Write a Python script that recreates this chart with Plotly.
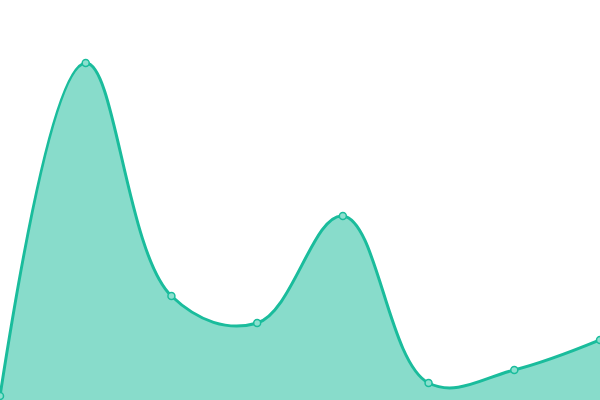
import plotly.graph_objects as go

# data
x_vals = [0, 1, 2, 3, 4, 5, 6, 7]
y_vals = [1, 84.25, 26, 19.25, 46, 4.25, 7.5, 15]

line_col = "#1abc9c"
fill_col = "rgba(26,188,156,0.52)"

trace = go.Scatter(
    x=x_vals,
    y=y_vals,
    mode="lines+markers",
    fill="tozeroy",
    fillcolor=fill_col,
    line=dict(color=line_col, width=3, shape="spline", smoothing=1.1),
    marker=dict(size=7, color="#8ce0cf", line=dict(color=line_col, width=1.5)),
    cliponaxis=False,
    hoverinfo="x+y",
)

layout = go.Layout(
    width=600,
    height=400,
    margin=dict(l=0, r=0, t=0, b=0),
    paper_bgcolor="white",
    plot_bgcolor="white",
    showlegend=False,
    xaxis=dict(visible=False, range=[0, 7], fixedrange=True),
    yaxis=dict(visible=False, range=[0, 100], fixedrange=True),
)

fig = go.Figure(data=[trace], layout=layout)
# page body has a default 8px margin; drop it so the chart sits at the corner
fig.write_html(
    "out.html",
    config={"displayModeBar": False},
    post_script="document.body.style.margin = '0';",
)
